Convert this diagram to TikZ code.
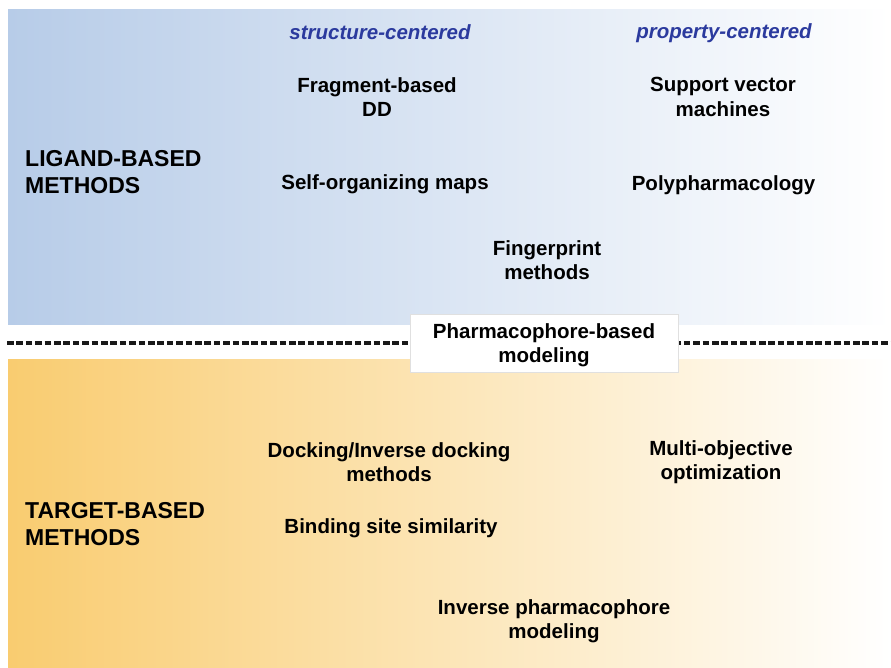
\documentclass[tikz,border=0pt]{standalone}
\usepackage{fontspec}
\setmainfont{Liberation Sans}
\definecolor{ligandblue}{HTML}{B7CCE8}
\definecolor{targetorange}{HTML}{F9CC70}
\definecolor{headblue}{HTML}{2B3A9E}
\begin{document}
\begin{tikzpicture}[x=1pt,y=-1pt,
  item/.style={font=\fontsize{20.5}{24.5}\selectfont\bfseries, align=center, text=black, inner sep=0pt},
  header/.style={font=\fontsize{20.5}{24.5}\selectfont\bfseries\itshape, text=headblue, inner sep=0pt},
  section/.style={font=\fontsize{23}{27}\selectfont\bfseries, align=left, text=black, anchor=west, inner sep=0pt},
  bridge/.style={draw=black!12, line width=0.8pt, fill=white, minimum width=268pt, minimum height=58pt, inner sep=0pt},
  divider/.style={line width=3.2pt, dash pattern=on 6.6pt off 2.8pt, black!90}]
\useasboundingbox (0,0) rectangle (891,668);
\fill[white] (0,0) rectangle (891,668);

% shaded panels
\shade[left color=ligandblue, right color=white] (8,10) rectangle (891,324);
\shade[left color=targetorange, right color=white] (8,359) rectangle (891,667);

% dashed boundary between the two families of methods
\coordinate (dl) at (7,343);
\coordinate (dr) at (891,343);
\draw[divider] (dl) -- (dr);

% column headers
\node[header] (hs) at (380,32) {structure-centered};
\node[header] (hp) at (724,33.5) {property-centered};

% ligand-based methods
\node[section] (lig) at (25,172) {LIGAND-BASED\\METHODS};
\node[item] (frag) at (377,97) {Fragment-based\\DD};
\node[item] (svm) at (723,97) {Support vector\\machines};
\node[item] (som) at (385,184) {Self-organizing maps};
\node[item] (poly) at (723.5,185) {Polypharmacology};
\node[item] (fp) at (547,260) {Fingerprint\\methods};

% shared approach on the boundary
\node[bridge] (pbox) at (544,343) {};
\node[item] (pharm) at (544,345) {Pharmacophore-based\\modeling};

% target-based methods
\node[section] (tgt) at (25,524) {TARGET-BASED\\METHODS};
\node[item] (dock) at (389,462) {Docking/Inverse docking\\methods};
\node[item] (moo) at (721,462) {Multi-objective\\optimization};
\node[item] (bss) at (391,528) {Binding site similarity};
\node[item] (ipm) at (554,621) {Inverse pharmacophore\\modeling};
\end{tikzpicture}
\end{document}
